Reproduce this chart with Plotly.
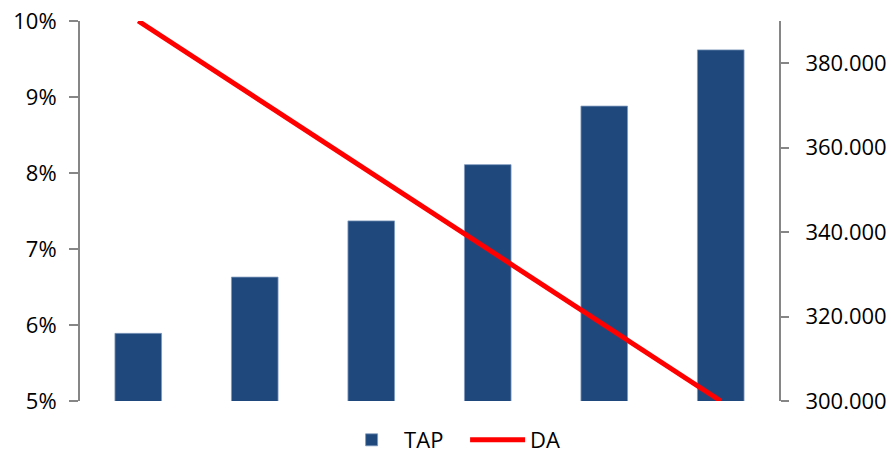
import plotly.graph_objects as go

categories = ["1", "2", "3", "4", "5", "6"]
tap_values = [0.0589, 0.0663, 0.0737, 0.0811, 0.0888, 0.0962]
da_values = [390000, 372000, 354000, 336000, 318000, 300000]
left_ticks = [0.05, 0.06, 0.07, 0.08, 0.09, 0.10]
right_ticks = [300000, 320000, 340000, 360000, 380000]

FONT = "Open Sans"
AXIS = "#868686"

fig = go.Figure()
fig.add_trace(go.Bar(
    x=categories, y=tap_values, name="TAP",
    marker=dict(color="#1F497D", line=dict(color="#7D98BD", width=0.8)),
    yaxis="y",
))
fig.add_trace(go.Scatter(
    x=categories, y=da_values, name="DA", mode="lines",
    line=dict(color="#FF0000", width=5),
    yaxis="y2",
))

fig.update_layout(
    width=891, height=461,
    margin=dict(l=80, r=112, t=21, b=60, autoexpand=False),
    paper_bgcolor="white", plot_bgcolor="white",
    separators=",.",
    bargap=0.6,
    showlegend=True,
    font=dict(family=FONT, size=22, color="#000000"),
    legend=dict(orientation="h", x=0.522, xanchor="center", xref="container",
                y=-0.06, yanchor="bottom", yref="container",
                font=dict(family=FONT, size=22), itemwidth=55,
                entrywidth=56, entrywidthmode="pixels", traceorder="normal",
                bgcolor="rgba(0,0,0,0)"),
    xaxis=dict(showticklabels=False, showgrid=False, zeroline=False, showline=False,
               ticks=""),
    yaxis=dict(range=[0.05, 0.10], tickvals=left_ticks, tickformat=".0%",
               showgrid=False, zeroline=False, showline=True, linecolor=AXIS, linewidth=2,
               ticks="outside", ticklen=9, tickwidth=2, tickcolor=AXIS,
               ticklabelstandoff=8),
    yaxis2=dict(range=[300000, 390000], tickvals=right_ticks, tickformat=",.0f",
                overlaying="y", side="right",
                showgrid=False, zeroline=False, showline=True, linecolor=AXIS, linewidth=2,
                ticks="outside", ticklen=8, tickwidth=2, tickcolor=AXIS,
                ticklabelstandoff=12),
)

fig.write_html("out.html")
